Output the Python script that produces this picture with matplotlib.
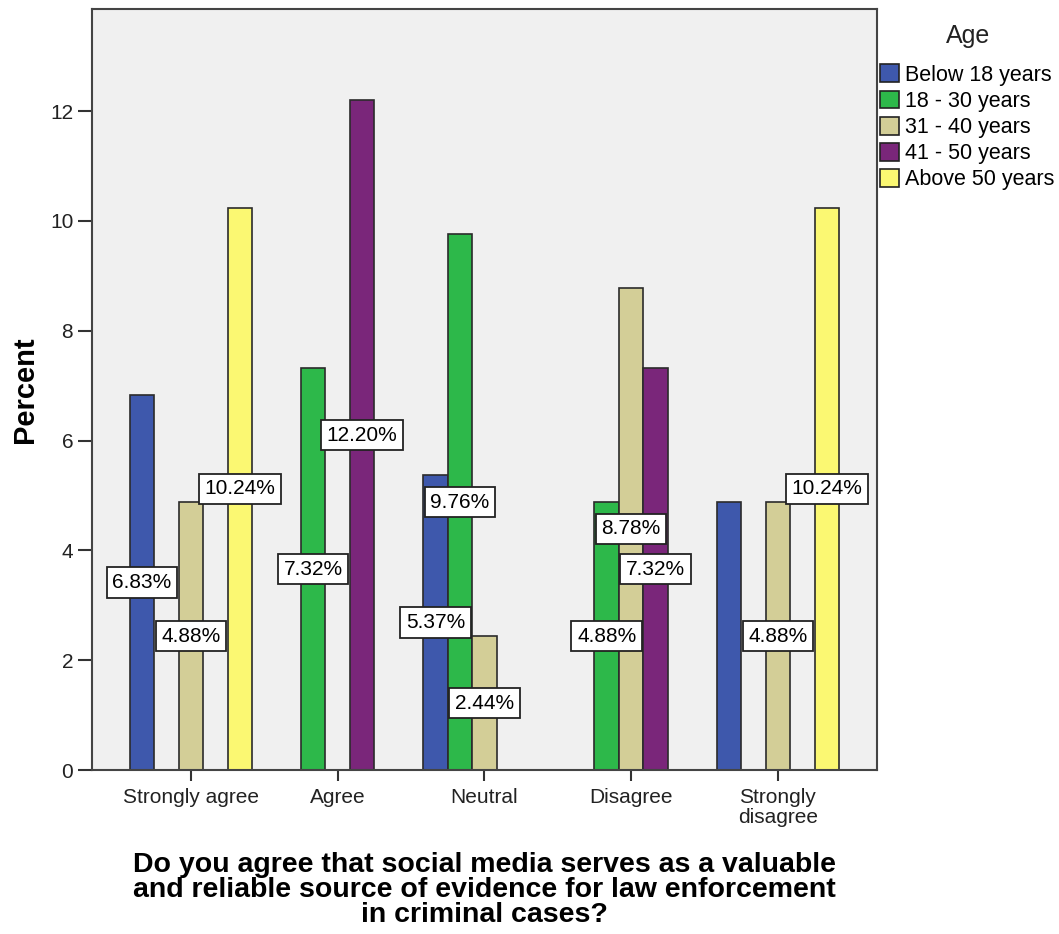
import matplotlib
matplotlib.use("Agg")
import matplotlib.pyplot as plt
import numpy as np
from matplotlib.patches import Patch

plt.rcParams['font.family'] = ['Liberation Sans', 'DejaVu Sans']

categories = ["Strongly agree", "Agree", "Neutral", "Disagree", "Strongly\ndisagree"]
age_groups = ["Below 18 years", "18 - 30 years", "31 - 40 years", "41 - 50 years", "Above 50 years"]
below_18 = [6.83, 0, 5.37, 0, 4.88]
age_18_30 = [0, 7.32, 9.76, 4.88, 0]
age_31_40 = [4.88, 0, 2.44, 8.78, 4.88]
age_41_50 = [0, 12.20, 0, 7.32, 0]
above_50 = [10.24, 0, 0, 0, 10.24]
series = [below_18, age_18_30, age_31_40, age_41_50, above_50]
# which value labels the reference shows (one hidden where two overlap)
label_shown = [
    [True, False, True, False, False],
    [False, True, True, True, False],
    [True, False, True, True, True],
    [False, True, False, True, False],
    [True, False, False, False, True],
]
colors = ["#3E58AC", "#2DB84A", "#D3CE97", "#7A267A", "#FBF872"]

fig = plt.figure(figsize=(10.59, 9.34), dpi=100)
ax = fig.add_axes([92/1059, 1-770/934, (877-92)/1059, (770-9)/934])
ax.set_facecolor("#F0F0F0")

x = np.arange(len(categories))
w = 0.167
for i, (vals, c) in enumerate(zip(series, colors)):
    for j, v in enumerate(vals):
        if v <= 0:
            continue
        xc = x[j] + (i - 2) * w
        ax.bar(xc, v, width=w, color=c, edgecolor="#2b2b2b", linewidth=1.2, zorder=2)
for i, vals in enumerate(series):
    for j, v in enumerate(vals):
        if v <= 0 or not label_shown[i][j]:
            continue
        xc = x[j] + (i - 2) * w
        ax.text(xc, v / 2, f"{v:.2f}%", ha="center", va="center", fontsize=15, zorder=5,
                bbox=dict(boxstyle="square,pad=0.27", fc="white", ec="#222222", lw=1.3))

ax.set_xlim(-0.675, 4.676)
ax.set_ylim(0, 13.86)
ax.set_yticks([0, 2, 4, 6, 8, 10, 12])
ax.set_xticks(x)
ax.set_xticklabels(categories, fontsize=15, color="#222222", linespacing=1.05)
ax.tick_params(axis="y", labelsize=15, length=10, width=1.5, colors="#333333", labelcolor="#222222")
ax.tick_params(axis="x", length=8, width=1.5, colors="#333333", labelcolor="#222222", pad=5)
for s in ax.spines.values():
    s.set_color("#444444")
    s.set_linewidth(1.5)

ax.set_ylabel("Percent", fontsize=21, fontweight="bold", labelpad=8)
ax.set_xlabel("Do you agree that social media serves as a valuable\nand reliable source of evidence for law enforcement\nin criminal cases?",
              fontsize=20.5, fontweight="bold", labelpad=18, linespacing=0.95)

handles = [Patch(facecolor=c, edgecolor="#222222", linewidth=1.2) for c in colors]
fig.text(968/1059, 1-36/934, "Age", ha="center", va="center", fontsize=18, color="#222222")
fig.legend(handles, age_groups, loc="upper left", bbox_to_anchor=(880/1059, 1-64.5/934),
           frameon=False, fontsize=15.5, handlelength=0.9, handleheight=0.9,
           handletextpad=0.25, labelspacing=0.22, borderpad=0, borderaxespad=0)

fig.savefig("out.png", dpi=100, facecolor="white")
